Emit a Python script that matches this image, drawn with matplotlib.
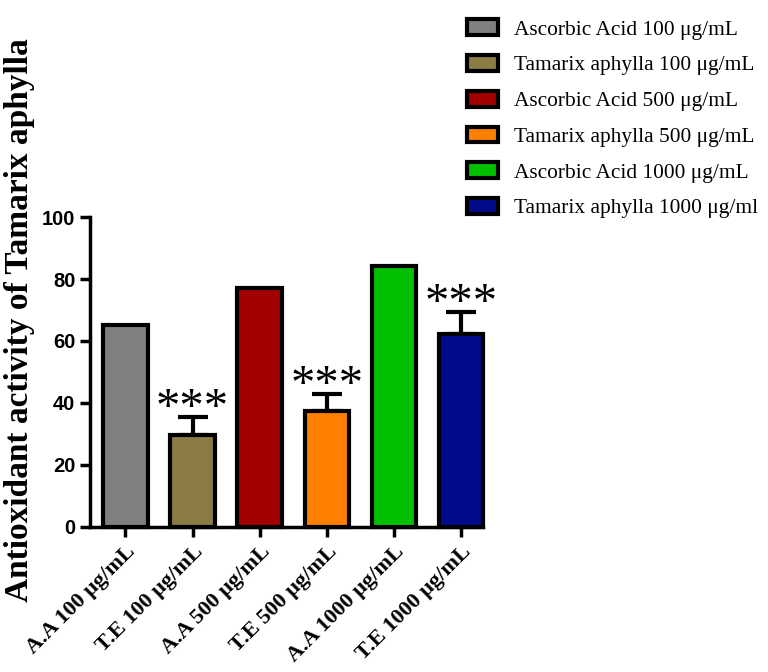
import numpy as np
import matplotlib.pyplot as plt
from matplotlib.patches import Patch

labels = ['A.A 100 μg/mL', 'T.E 100 μg/mL', 'A.A 500 μg/mL',
          'T.E 500 μg/mL', 'A.A 1000 μg/mL', 'T.E 1000 μg/mL']
legend_labels = ['Ascorbic Acid 100 μg/mL', 'Tamarix aphylla 100 μg/mL',
                 'Ascorbic Acid 500 μg/mL', 'Tamarix aphylla 500 μg/mL',
                 'Ascorbic Acid 1000 μg/mL', 'Tamarix aphylla 1000 μg/ml']
values = [65.2, 29.5, 77.0, 37.3, 84.3, 62.2]
errors = [0, 6.0, 0, 5.6, 0, 7.0]
stars = ['', '***', '', '***', '', '***']
colors = ['#808080', '#8b7b45', '#a00000', '#ff8000', '#00c000', '#000a8a']

fig = plt.figure(figsize=(7.68, 6.72), dpi=100)
ax = fig.add_axes([0.117, 0.216, 0.512, 0.461])

pos = np.arange(len(values))
bars = ax.bar(pos, values, 0.66, color=colors, edgecolor='black', linewidth=3, zorder=2)
for b in bars:
    b.set_clip_on(False)
for p, v, e, s in zip(pos, values, errors, stars):
    if e > 0:
        ax.errorbar(p, v, yerr=[[0], [e]], color='black', elinewidth=3,
                    capsize=11, capthick=3, zorder=1)
    if s:
        ax.text(p, v + e - 1.3, s, ha='center', va='baseline', fontsize=35,
                family='Liberation Serif')

ax.set_xlim(-0.53, 5.33)
ax.set_ylim(0, 100)
ax.set_yticks(np.arange(0, 101, 20))
ax.set_xticks(pos)
ax.set_xticklabels(labels, rotation=45, ha='right', rotation_mode='anchor',
                   family='Liberation Serif', fontweight='bold', fontsize=16)
for t in ax.get_yticklabels():
    t.set_family('Liberation Sans')
    t.set_fontweight('bold')
    t.set_fontsize(14.5)
ax.tick_params(width=2.5, length=7)
for side in ['top', 'right']:
    ax.spines[side].set_visible(False)
for side in ['left', 'bottom']:
    ax.spines[side].set_linewidth(2.5)

fig.text(0.026, 0.524, 'Antioxidant activity of Tamarix aphylla', rotation=90,
         ha='center', va='center', family='Liberation Serif',
         fontweight='bold', fontsize=24)

handles = [Patch(facecolor=c, edgecolor='black', linewidth=3) for c in colors]
fig.legend(handles, legend_labels, loc='upper left', bbox_to_anchor=(0.608, 0.971),
           frameon=False, prop={'family': 'Liberation Serif', 'size': 15.4},
           borderpad=0, borderaxespad=0,
           handlelength=1.45, handleheight=0.75, labelspacing=0.72, handletextpad=0.75)

fig.savefig('out.png', dpi=100)
